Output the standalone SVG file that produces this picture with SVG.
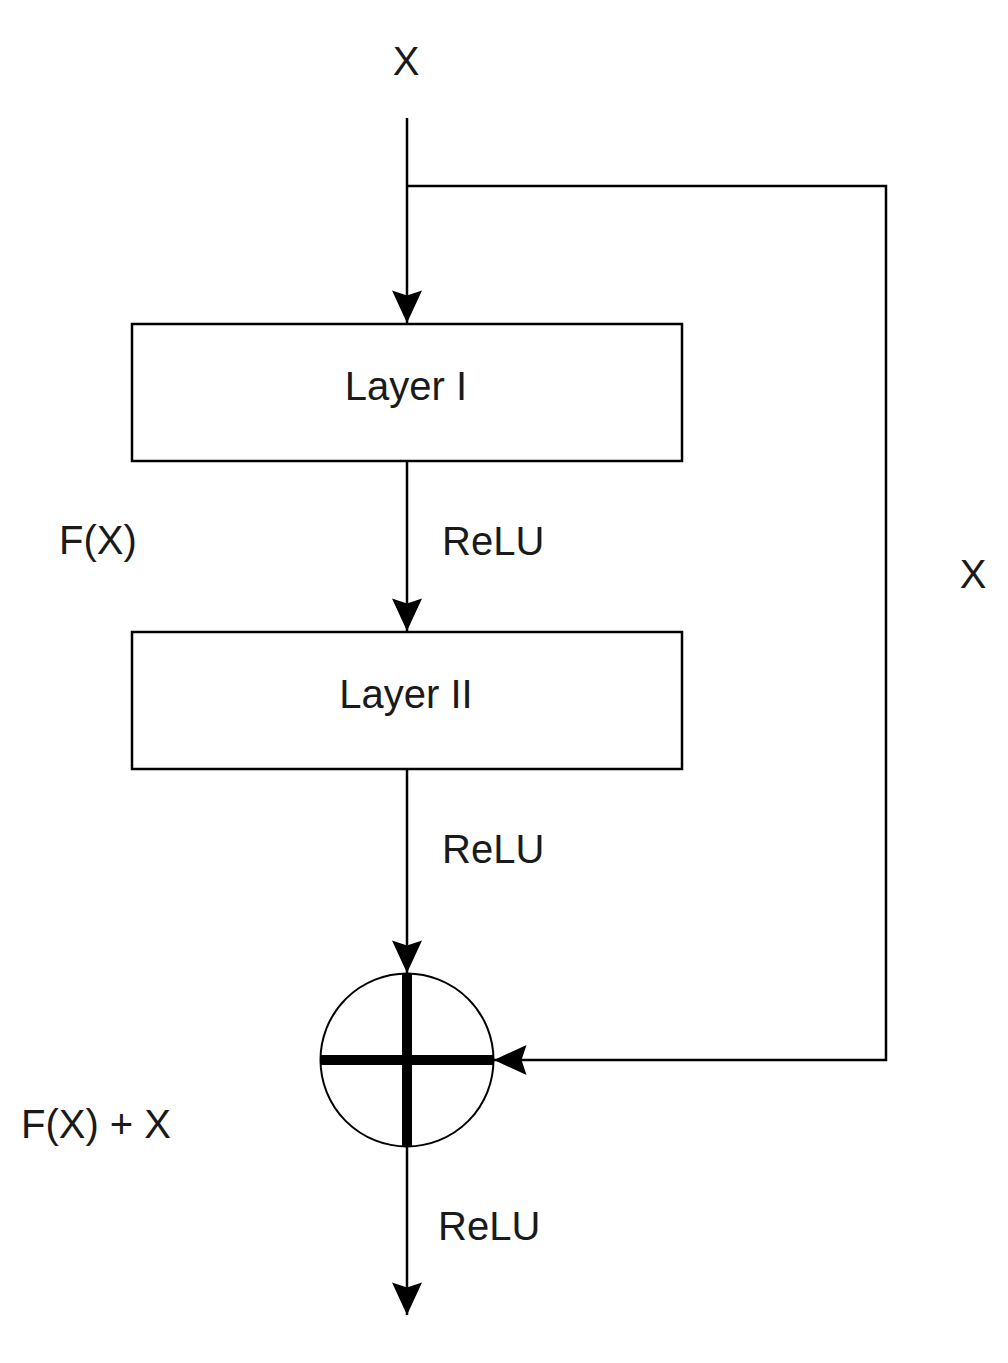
<svg xmlns="http://www.w3.org/2000/svg" width="1008" height="1363" viewBox="0 0 1008 1363">
<style>
.t{font-family:"Liberation Sans",Arial,sans-serif;font-size:40px;fill:#1a1a1a}
.box{fill:#fff;stroke:#000;stroke-width:2.5}
.e{fill:none;stroke:#000;stroke-width:2.5}
</style>
<defs>
<marker id="arr" markerUnits="userSpaceOnUse" markerWidth="40" markerHeight="40" viewBox="-30 -15 32 30" refX="0" refY="0" orient="auto">
<path d="M0,0 L-26,-12 L-22,0 L-26,12 Z" fill="#000"/>
</marker>
</defs>
<rect width="1008" height="1363" fill="#fff"/>
<g id="connectors">
<path class="e" d="M407,118 V323" marker-end="url(#arr)"/>
<path class="e" d="M407,186 H886 V1060 H494" marker-end="url(#arr)"/>
<path class="e" d="M407,461 V631" marker-end="url(#arr)"/>
<path class="e" d="M407,769 V973" marker-end="url(#arr)"/>
<path class="e" d="M407,1146 V1315" marker-end="url(#arr)"/>
</g>
<g id="layer1">
<rect class="box" x="132" y="324" width="550" height="137"/>
<text class="t" x="406" y="400" text-anchor="middle">Layer I</text>
</g>
<g id="layer2">
<rect class="box" x="132" y="632" width="550" height="137"/>
<text class="t" x="406" y="708" text-anchor="middle">Layer II</text>
</g>
<g id="sum">
<circle cx="407" cy="1060" r="86.5" fill="#fff" stroke="#000" stroke-width="2"/>
<path d="M320.5,1060 H493.5 M407,973.5 V1146.5" stroke="#000" stroke-width="10" fill="none"/>
</g>
<g id="labels">
<text class="t" x="406" y="75" text-anchor="middle">X</text>
<text class="t" x="973" y="588" text-anchor="middle">X</text>
<text class="t" x="59" y="554">F(X)</text>
<text class="t" x="442" y="555">ReLU</text>
<text class="t" x="442" y="863">ReLU</text>
<text class="t" x="438" y="1240">ReLU</text>
<text class="t" x="21" y="1138">F(X) + X</text>
</g>
</svg>
